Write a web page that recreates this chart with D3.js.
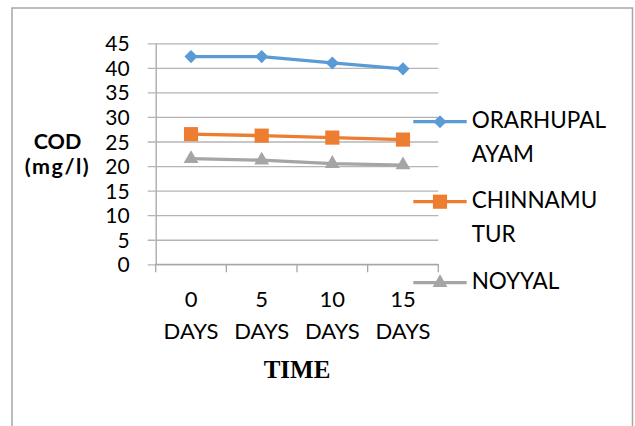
<!DOCTYPE html>
<html>
<head>
<meta charset="utf-8">
<script src="https://cdn.jsdelivr.net/npm/d3@7"></script>
<style>
  html, body { margin: 0; padding: 0; background: #fff; }
  svg { display: block; }
</style>
</head>
<body>
<script>
// COD (mg/l) measured over time at three sites
const categories = ["0 DAYS", "5 DAYS", "10 DAYS", "15 DAYS"];
const seriesNames = ["ORARHUPALAYAM", "CHINNAMUTUR", "NOYYAL"];
const legendLines = [["ORARHUPAL", "AYAM"], ["CHINNAMU", "TUR"], ["NOYYAL"]];
const orarhupalayam = [42.3, 42.3, 41.0, 39.8];
const chinnamutur = [26.5, 26.2, 25.8, 25.4];
const noyyal = [21.5, 21.2, 20.5, 20.2];
const yTicks = [0, 5, 10, 15, 20, 25, 30, 35, 40, 45];

const W = 635, H = 426;
const colors = ["#5b9bd5", "#ed7d31", "#a5a5a5"];
const symbols = [d3.symbolDiamond2, d3.symbolSquare, d3.symbolTriangle];
const symbolSizes = [110, 200, 95];
const font = "Lato, 'Open Sans', sans-serif";

const svg = d3.select("body").append("svg").attr("width", W).attr("height", H);

// outer chart frame
svg.append("rect")
  .attr("x", 12).attr("y", 8).attr("width", 620.5).attr("height", 440)
  .attr("fill", "none").attr("stroke", "#a6a6a6").attr("stroke-width", 1.5);

const plot = { left: 155.7, right: 438.3, top: 43.3, bottom: 264.3 };

const x = d3.scaleBand().domain(categories).range([plot.left, plot.right]).padding(0);
const y = d3.scaleLinear().domain([0, 45]).range([plot.bottom, plot.top]);
const cx = c => x(c) + x.bandwidth() / 2;

// horizontal gridlines with short outside ticks
const yAxis = d3.axisLeft(y).tickValues(yTicks)
  .tickSizeInner(-(plot.right - plot.left)).tickSizeOuter(0).tickPadding(26);
const gy = svg.append("g").attr("transform", `translate(${plot.left},0)`).call(yAxis);
gy.select(".domain").attr("stroke", "#a6a6a6").attr("stroke-width", 1.3);
gy.selectAll(".tick line").attr("x1", -8).attr("stroke", "#b4b4b4").attr("stroke-width", 1.3);
gy.selectAll(".tick text")
  .attr("font-family", font).attr("font-size", 21).attr("fill", "#000")
  .attr("dy", "0.36em");

// category axis: baseline and ticks between categories
const gx = svg.append("g").attr("transform", `translate(0,${plot.bottom})`);
gx.append("line").attr("x1", plot.left).attr("x2", plot.right)
  .attr("stroke", "#a6a6a6").attr("stroke-width", 1.3);
const edges = categories.map(c => x(c)).concat([x.range()[1]]);
gx.selectAll("line.tk").data(edges).join("line").attr("class", "tk")
  .attr("x1", d => d).attr("x2", d => d).attr("y1", 0).attr("y2", 8)
  .attr("stroke", "#a6a6a6").attr("stroke-width", 1.3);

const xl = svg.append("g").selectAll("text").data(categories).join("text")
  .attr("font-family", font).attr("font-size", 22).attr("text-anchor", "middle")
  .attr("fill", "#000");
xl.each(function (c) {
  const parts = c.split(" ");
  d3.select(this).selectAll("tspan").data(parts).join("tspan")
    .attr("x", cx(c)).attr("y", (p, i) => 307 + i * 32.3).text(p => p);
});

// series lines and markers
const data = [orarhupalayam, chinnamutur, noyyal];
const line = d3.line().x((d, i) => cx(categories[i])).y(d => y(d));
data.forEach((vals, s) => {
  svg.append("path").datum(vals).attr("d", line)
    .attr("fill", "none").attr("stroke", colors[s]).attr("stroke-width", 3.3)
    .attr("stroke-linejoin", "round");
  svg.append("g").selectAll("path").data(vals).join("path")
    .attr("transform", (d, i) => `translate(${cx(categories[i])},${y(d)})`)
    .attr("d", d3.symbol().type(symbols[s]).size(symbolSizes[s]))
    .attr("fill", colors[s]);
});

// legend
const legendY = [121.7, 201.7, 282.7];
const lg = svg.append("g");
seriesNames.forEach((name, s) => {
  const g = lg.append("g");
  g.append("line").attr("x1", 413.3).attr("x2", 466.7)
    .attr("y1", legendY[s]).attr("y2", legendY[s])
    .attr("stroke", colors[s]).attr("stroke-width", 3.3);
  g.append("path").attr("transform", `translate(440,${legendY[s]})`)
    .attr("d", d3.symbol().type(symbols[s]).size(symbolSizes[s]))
    .attr("fill", colors[s]);
  g.append("text").attr("font-family", font).attr("font-size", 22.5).attr("fill", "#000")
    .selectAll("tspan").data(legendLines[s]).join("tspan")
    .attr("x", 471.7).attr("y", (t, i) => legendY[s] + 6.6 + i * 33.4).text(t => t);
});

// axis titles
svg.append("text").attr("font-family", font).attr("font-weight", "bold")
  .attr("font-size", 21.5).attr("text-anchor", "middle").attr("fill", "#000")
  .selectAll("tspan").data(["COD", "(mg/l)"]).join("tspan")
  .attr("x", 57.5).attr("y", (t, i) => 149 + i * 25)
  .attr("letter-spacing", (t, i) => i ? 1.5 : 0).text(t => t);

svg.append("text").attr("x", (plot.left + plot.right) / 2).attr("y", 378.3)
  .attr("font-family", "'Liberation Serif', 'Times New Roman', serif")
  .attr("font-weight", "bold").attr("font-size", 25).attr("text-anchor", "middle")
  .attr("fill", "#000").text("TIME");
</script>
</body>
</html>
